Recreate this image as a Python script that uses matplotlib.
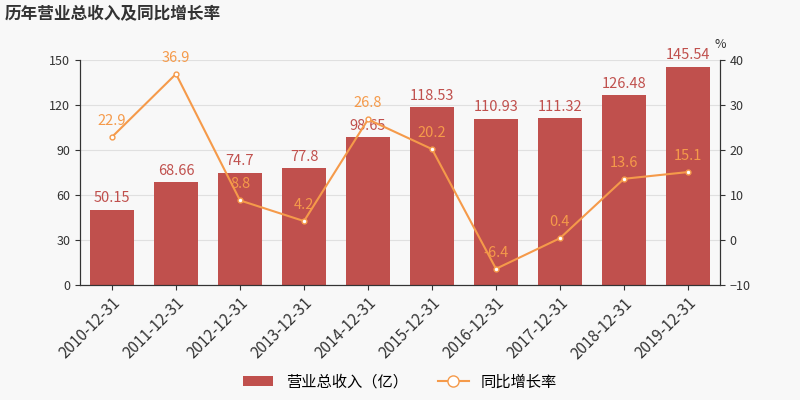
# -*- coding: utf-8 -*-
import matplotlib
matplotlib.use('Agg')
import matplotlib.pyplot as plt
import numpy as np

plt.rcParams['font.family'] = ['Noto Sans CJK SC', 'DejaVu Sans']

dates = ['2010-12-31', '2011-12-31', '2012-12-31', '2013-12-31', '2014-12-31',
         '2015-12-31', '2016-12-31', '2017-12-31', '2018-12-31', '2019-12-31']
revenue = [50.15, 68.66, 74.7, 77.8, 98.65, 118.53, 110.93, 111.32, 126.48, 145.54]
growth = [22.9, 36.9, 8.8, 4.2, 26.8, 20.2, -6.4, 0.4, 13.6, 15.1]

bar_c = '#c0504d'
line_c = '#f59a4a'
bg = '#f8f8f8'

fig = plt.figure(figsize=(8, 4), dpi=100, facecolor=bg)
ax = fig.add_axes([0.1, 0.2875, 0.8, 0.5625], facecolor=bg)
ax2 = ax.twinx()

x = np.arange(len(dates))
ax.bar(x, revenue, width=0.7, color=bar_c, zorder=2)
for xi, v in zip(x, revenue):
    ax.text(xi, v + 3, f'{v:g}', ha='center', va='bottom', color=bar_c, fontsize=10.5)
ax.set_ylim(0, 150)
ax.set_yticks(range(0, 151, 30))
ax.set_xlim(-0.5, len(dates) - 0.5)
ax.set_xticks(x)
ax.set_xticklabels(dates, rotation=45, ha='right', rotation_mode='anchor', fontsize=11)
ax.grid(axis='y', color='#e0e0e0', lw=0.8, zorder=0)

ax2.plot(x, growth, color=line_c, lw=1.5, marker='o', ms=3.5, mfc='white', mec=line_c, zorder=3)
for xi, v in zip(x, growth):
    ax2.text(xi, v + 2, f'{v:g}', ha='center', va='bottom', color=line_c, fontsize=10.5)
ax2.set_ylim(-10, 40)
ax2.set_yticks(range(-10, 41, 10))
ax2.text(1.0, 1.04, '%', transform=ax2.transAxes, ha='center', va='bottom', fontsize=9, color='#333333')

for a in (ax, ax2):
    for s in ['top']:
        a.spines[s].set_visible(False)
    a.spines['left'].set_color('#333333')
    a.spines['right'].set_color('#333333')
    a.spines['bottom'].set_color('#333333')
    a.tick_params(labelsize=9, colors='#333333')
ax.tick_params(axis='x', labelsize=11)

fig.text(0.006, 0.965, '历年营业总收入及同比增长率', fontsize=12, fontweight='bold', color='#333333', va='center')

from matplotlib.patches import Patch
from matplotlib.lines import Line2D
handles = [Patch(facecolor=bar_c, label='营业总收入（亿）'),
           Line2D([], [], color=line_c, marker='o', mfc='white', ms=8, label='同比增长率')]
fig.legend(handles=handles, loc='lower center', bbox_to_anchor=(0.5, -0.01), ncol=2,
           frameon=False, fontsize=11, handlelength=2)

fig.savefig('out.png', facecolor=bg)
